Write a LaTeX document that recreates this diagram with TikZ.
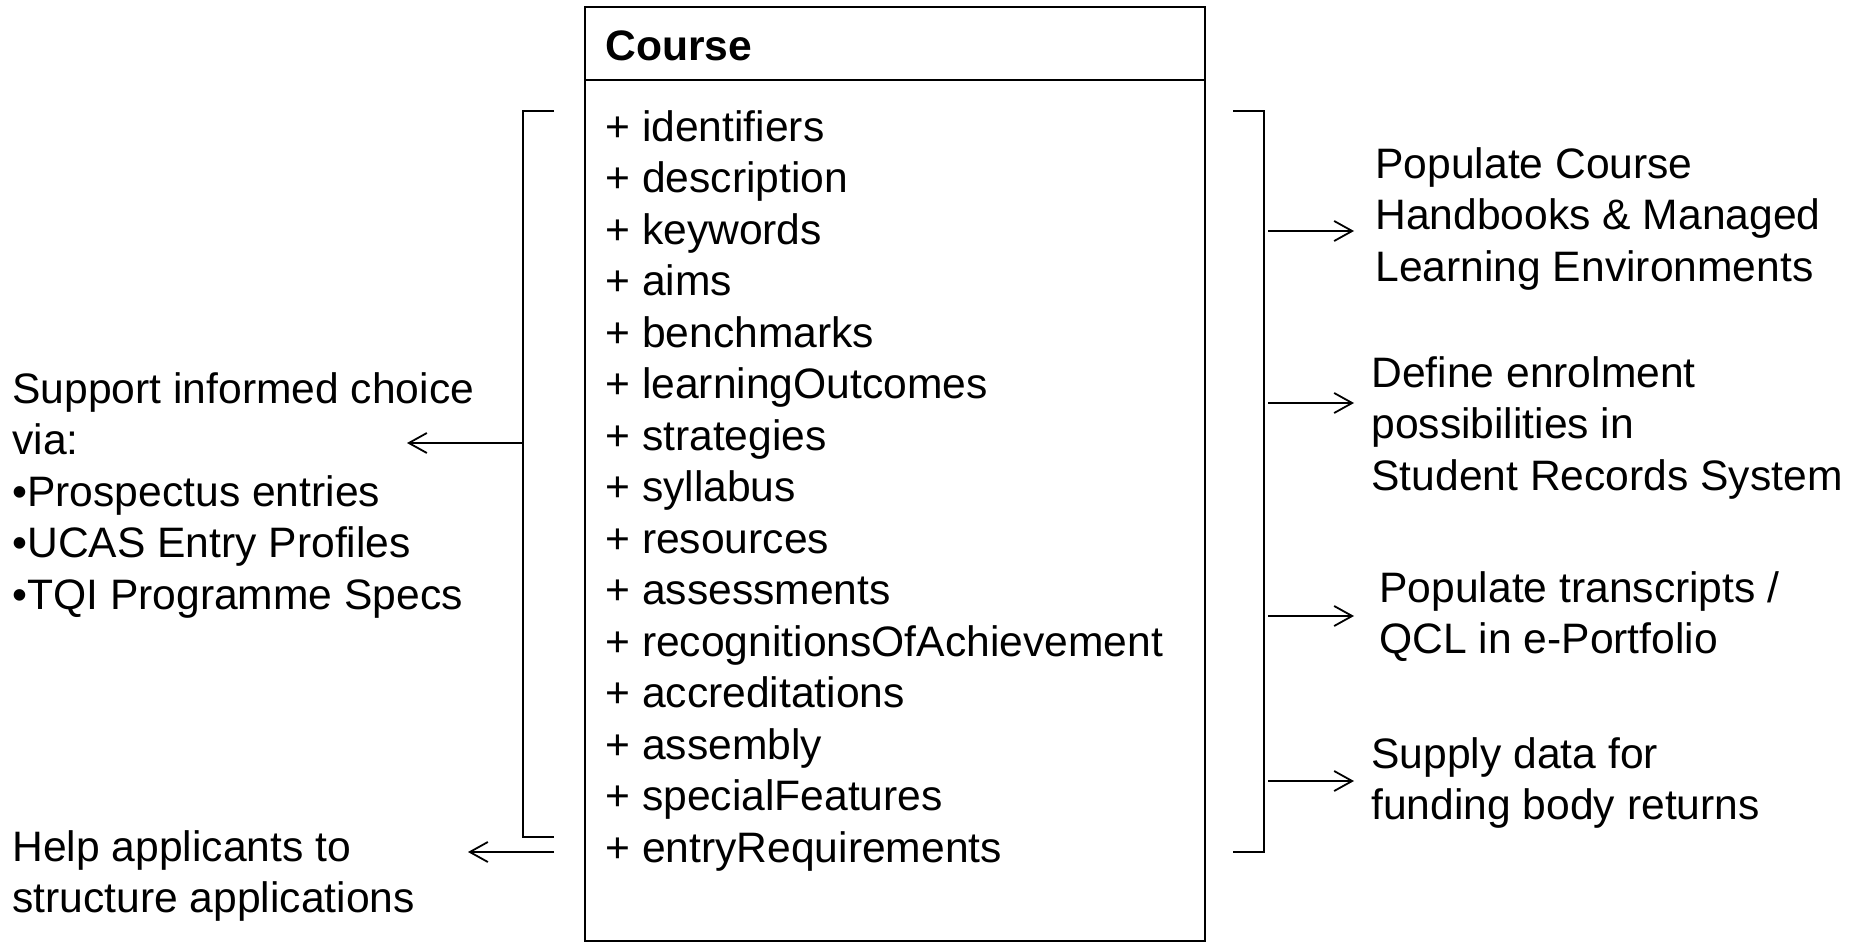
\documentclass[tikz,border=0pt]{standalone}
\usepackage{fontspec}
\setmainfont{Liberation Sans}
\usetikzlibrary{arrows.meta}
\begin{document}
\begin{tikzpicture}[x=0.5pt,y=-0.5pt,
  txt/.style={anchor=base west, inner sep=0pt, font=\fontsize{21.3pt}{25.75pt}\selectfont},
  boxline/.style={line width=1.2pt},
  brk/.style={line width=1pt},
  arr/.style={line width=0.9pt, -{Straight Barb[length=9pt,width=10pt]}}]
\useasboundingbox (0,0) rectangle (1853,942);
% class box
\node[draw, boxline, anchor=north west, inner sep=0pt, minimum width=310pt, minimum height=467pt] (box) at (584,6) {};
\coordinate (h1) at (584,80);
\coordinate (h2) at (1204,80);
\draw[boxline] (h1) -- (h2);
\node[txt, font=\fontsize{21.3pt}{25.75pt}\selectfont\bfseries] (title) at (605,60) {Course};
\foreach \t [count=\i] in {identifiers, description, keywords, aims, benchmarks, learningOutcomes, strategies, syllabus, resources, assessments, recognitionsOfAchievement, accreditations, assembly, specialFeatures, entryRequirements}
  \node[txt] (attr\i) at (605,{141+51.5*(\i-1)}) {+ \t};
% left bracket
\coordinate (lb1) at (554,111);
\coordinate (lb2) at (523,111);
\coordinate (lb3) at (523,837);
\coordinate (lb4) at (554,837);
\draw[brk] (lb1) -- (lb2) -- (lb3) -- (lb4);
\coordinate (la1s) at (523,443);
\coordinate (la1e) at (407,443);
\coordinate (la2s) at (554,852);
\coordinate (la2e) at (468,852);
\draw[arr] (la1s) -- (la1e);
\draw[arr] (la2s) -- (la2e);
% right bracket
\coordinate (rb1) at (1233,111);
\coordinate (rb2) at (1264,111);
\coordinate (rb3) at (1264,852);
\coordinate (rb4) at (1233,852);
\draw[brk] (rb1) -- (rb2) -- (rb3) -- (rb4);
\foreach \y [count=\k] in {231,403,616,781}{
  \coordinate (ra\k s) at (1268,\y);
  \coordinate (ra\k e) at (1354,\y);
  \draw[arr] (ra\k s) -- (ra\k e);
}
% left texts
\node[txt] (l1a) at (12,403) {Support informed choice};
\node[txt] (l1b) at (12,454.5) {via:};
\node[txt] (l1c) at (12,506) {•Prospectus entries};
\node[txt] (l1d) at (12,557.5) {•UCAS Entry Profiles};
\node[txt] (l1e) at (12,609) {•TQI Programme Specs};
\node[txt] (l2a) at (12,861) {Help applicants to};
\node[txt] (l2b) at (12,912.5) {structure applications};
% right texts
\node[txt] (r1a) at (1375,178) {Populate Course};
\node[txt] (r1b) at (1375,229.5) {Handbooks \& Managed};
\node[txt] (r1c) at (1375,281) {Learning Environments};
\node[txt] (r2a) at (1371,387) {Define enrolment};
\node[txt] (r2b) at (1371,438.5) {possibilities in};
\node[txt] (r2c) at (1371,490) {Student Records System};
\node[txt] (r3a) at (1379,602) {Populate transcripts /};
\node[txt] (r3b) at (1379,653.5) {QCL in e-Portfolio};
\node[txt] (r4a) at (1371,768) {Supply data for};
\node[txt] (r4b) at (1371,819.5) {funding body returns};
\end{tikzpicture}
\end{document}
